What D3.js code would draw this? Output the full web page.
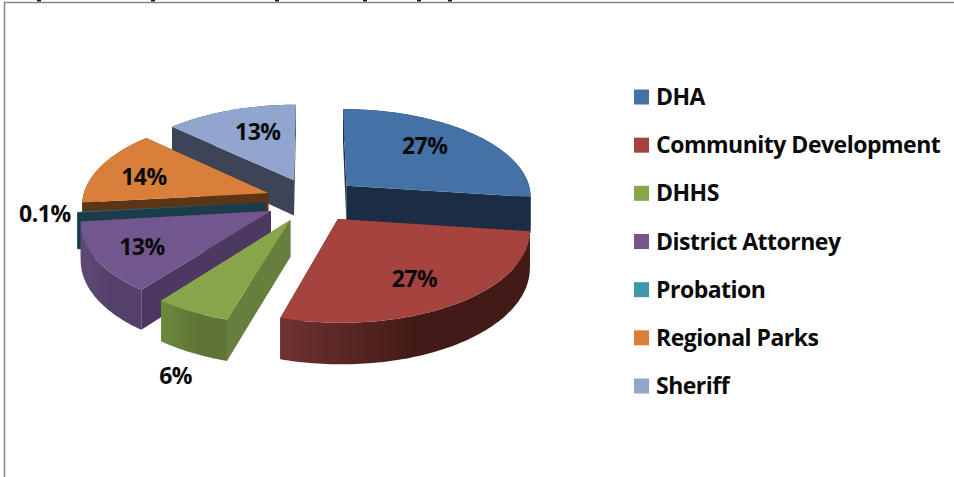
<!DOCTYPE html>
<html>
<head>
<meta charset="utf-8">
<script src="https://cdn.jsdelivr.net/npm/d3@7"></script>
<style>
  html, body { margin: 0; padding: 0; background: #fff; }
  svg { display: block; }
  text { font-family: "Open Sans", Lato, sans-serif; font-weight: 700; fill: #0a0a0a; letter-spacing: -0.5px; }
</style>
</head>
<body>
<div id="chart"></div>
<script>
// Values (labels only show them rounded)
const departments = ["DHA", "Community Development", "DHHS", "District Attorney", "Probation", "Regional Parks", "Sheriff"];
const shares = [27.1, 27.49, 5.8, 12.8, 0.1, 13.71, 13];

const topColors = ["#4472a6", "#a5433f", "#89a54c", "#71578e", "#3f97ad", "#d97f3a", "#91a6cf"];
const wallColors = ["#1b2d45", "#431b18", "#667f3c", "#4c3860", "#1b3d4b", "#5b3516", "#3d4458"];
const sideLeftColors = ["#1b2d45", "#6f3231", "#6c8a3c", "#5f4a75", "#1b3d4b", "#5b3516", "#3d4458"];
const sideRightColors = ["#1b2d45", "#431a17", "#5f7437", "#55406c", "#1b3d4b", "#5b3516", "#3d4458"];

// Label placement, relative to the slice's own tip
const labelRadius = [0.68, 0.71, 1.5, 0.75, 1.17, 0.72, 0.66];
const labelTurn = [-6, 2, -8, -1, 0, -3, 4];

// Where the title, cut off by the page top, still shows its descenders
const titleDescenders = [39, 153, 277, 365, 419, 450];

const width = 954;
const height = 477;

// Projection of the tilted pie
const cx = 312;
const cy = 200;
const radiusX = 186;
const radiusY = 88;
const perspective = 0.11;
const depth = 36;
const explode = 0.25;

const svg = d3.select("#chart")
  .append("svg")
  .attr("width", width)
  .attr("height", height);
const defs = svg.append("defs");

// Chart frame, cut by the page edge on the right and bottom
svg.append("path")
  .attr("d", `M4.5,${height}V2.5H${width}`)
  .attr("fill", "none")
  .attr("stroke", "#868686")
  .attr("stroke-width", 1.5);

svg.selectAll(".descender")
  .data(titleDescenders)
  .join("rect")
  .attr("class", "descender")
  .attr("x", d => d - 2)
  .attr("y", 0)
  .attr("width", 4)
  .attr("height", 1.5)
  .attr("fill", "#1a1a1a");

// World point to screen, lift moves it down by the pie thickness
function project(x, z, lift) {
  const s = 1 / (1 - perspective * z);
  return [cx + radiusX * x * s, cy + radiusY * z * s + lift * depth * s];
}

const slices = d3.pie().sort(null).value(d => d)(shares).map((d, i) => {
  const mid = (d.startAngle + d.endAngle) / 2;
  return {
    i: i,
    start: d.startAngle,
    end: d.endAngle,
    mid: mid,
    tipX: explode * Math.sin(mid),
    tipZ: -explode * Math.cos(mid)
  };
});

function onRim(slice, angle, r, lift) {
  return project(slice.tipX + r * Math.sin(angle), slice.tipZ - r * Math.cos(angle), lift);
}

function rimAngles(slice) {
  const steps = Math.max(2, Math.ceil((slice.end - slice.start) / 0.02));
  return d3.range(steps + 1).map(k => slice.start + (slice.end - slice.start) * k / steps);
}

const line = d3.line();

function wallPath(slice, angle) {
  return line([onRim(slice, angle, 0, 0), onRim(slice, angle, 1, 0), onRim(slice, angle, 1, 1), onRim(slice, angle, 0, 1)]) + "Z";
}

function drawSlice(slice) {
  const g = svg.append("g");
  const angles = rimAngles(slice);
  const rimTop = angles.map(a => onRim(slice, a, 1, 0));
  const rimBottom = angles.map(a => onRim(slice, a, 1, 1)).reverse();

  // Side shading runs left to right across the rim
  const xs = d3.extent(rimTop, p => p[0]);
  const gradient = defs.append("linearGradient")
    .attr("id", `side-${slice.i}`)
    .attr("gradientUnits", "userSpaceOnUse")
    .attr("x1", xs[0]).attr("x2", xs[1])
    .attr("y1", 0).attr("y2", 0);
  gradient.append("stop").attr("offset", "0").attr("stop-color", sideLeftColors[slice.i]);
  gradient.append("stop").attr("offset", "0.55").attr("stop-color", sideRightColors[slice.i]);
  gradient.append("stop").attr("offset", "1").attr("stop-color", sideRightColors[slice.i]);

  g.append("path").attr("d", wallPath(slice, slice.start)).attr("fill", wallColors[slice.i]);
  g.append("path").attr("d", wallPath(slice, slice.end)).attr("fill", wallColors[slice.i]);
  g.append("path").attr("d", line(rimTop.concat(rimBottom)) + "Z").attr("fill", `url(#side-${slice.i})`);
  g.append("path")
    .attr("d", line([onRim(slice, 0, 0, 0)].concat(rimTop)) + "Z")
    .attr("fill", topColors[slice.i]);
}

// Back to front
[6, 0, 5, 4, 3, 2, 1].forEach(i => drawSlice(slices[i]));

// Data labels
const percent = v => (v < 1 ? d3.format(".1f")(v) : d3.format(".0f")(v)) + "%";
slices.forEach((slice, i) => {
  const p = onRim(slice, slice.mid + labelTurn[i] * Math.PI / 180, labelRadius[i], 0);
  svg.append("text")
    .attr("x", p[0])
    .attr("y", p[1])
    .attr("dy", "0.35em")
    .attr("text-anchor", "middle")
    .attr("font-size", 23)
    .text(percent(shares[i]));
});

// Legend
const legendY = d3.scalePoint().domain(departments).range([97, 386]);
const legend = svg.append("g");
departments.forEach((name, i) => {
  legend.append("rect")
    .attr("x", 634)
    .attr("y", legendY(name) - 7.5)
    .attr("width", 15)
    .attr("height", 15)
    .attr("fill", topColors[i]);
  legend.append("text")
    .attr("x", 656)
    .attr("y", legendY(name))
    .attr("dy", "0.35em")
    .attr("font-size", 23)
    .text(name);
});
</script>
</body>
</html>
